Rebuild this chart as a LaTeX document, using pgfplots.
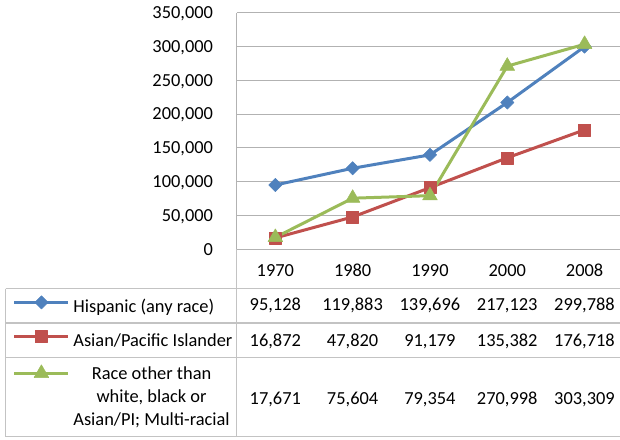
\documentclass[border=0pt]{standalone}
\usepackage{fontspec}
\setmainfont{Carlito}
\usepackage{pgfplots}
\pgfplotsset{compat=1.18}
\definecolor{cblue}{RGB}{79,129,189}
\definecolor{cred}{RGB}{192,80,77}
\definecolor{cgreen}{RGB}{155,187,89}
\definecolor{gridgray}{RGB}{178,178,178}
\definecolor{tablegray}{RGB}{195,195,195}
\newcommand{\cf}{\fontsize{18.4}{23}\selectfont}
\begin{document}
\begin{tikzpicture}[font=\cf]
\begin{axis}[
  scale only axis, width=383.3pt, height=236.6pt,
  xmin=-0.5, xmax=4.458, ymin=0, ymax=350000,
  axis lines=left, axis line style={-, draw=gridgray, line width=1pt},
  xtick={0,1,2,3,4}, xticklabels={1970,1980,1990,2000,2008},
  ytick={0,50000,100000,150000,200000,250000,300000,350000},
  major tick length=0pt,
  ymajorgrids, grid style={draw=gridgray, line width=1pt},
  scaled y ticks=false,
  yticklabel style={/pgf/number format/fixed, /pgf/number format/1000 sep={,}},
  /pgf/number format/assume math mode=true,
  tick label style={font=\cf},
  xticklabel style={anchor=base, inner sep=0pt, yshift=-26.7pt},
  yticklabel style={anchor=base east, inner sep=0pt, xshift=-23.5pt, yshift=-5.8pt},
  clip=false,
  legend cell align=left,
  legend style={draw=none, fill=none, font=\cf, at={(-0.5844,-0.1953)}, anchor=north west,
    inner sep=0pt, row sep=13.5pt, /tikz/column sep=3.5pt,
    nodes={inner sep=0pt, text height=14pt, text depth=5pt}},
  legend image code/.code={\draw[mark repeat=2,mark phase=2,#1] plot coordinates {(0pt,5.2pt) (27pt,5.2pt) (54pt,5.2pt)};},
  every axis plot/.append style={line width=3pt, line join=round},
]
\coordinate (O) at (rel axis cs:0,0);
\addplot[cblue, mark=square*, mark size=4.7pt, mark options={solid, line width=0.5pt, rotate=45}]
  coordinates {(0,95128) (1,119883) (2,139696) (3,217123) (4,299788)};
\addlegendentry{Hispanic (any race)}
\addplot[cred, mark=square*, mark size=6pt, mark options={solid, line width=0.5pt}]
  coordinates {(0,16872) (1,47820) (2,91179) (3,135382) (4,176718)};
\addlegendentry{Asian/Pacific Islander}
\addplot[cgreen, mark=triangle*, mark size=8.5pt, mark options={solid, line width=0.5pt}]
  coordinates {(0,17671) (1,75604) (2,79354) (3,270998) (4,303309)};
\addlegendentry{\raisebox{3pt}{\begin{tabular}[t]{@{}c@{}}Race other than\\white, black or\\Asian/PI; Multi-racial\end{tabular}}}
\end{axis}
\begin{scope}[shift={(O)}]
\begin{scope}[x=1pt, y=-1pt, shift={(-236.7,-249.3)}]
% data table grid
\draw[tablegray, line width=1.2pt]
  (5.7,288.5) -- (620,288.5)
  (5.7,323) -- (620,323)
  (5.7,357.5) -- (620,357.5)
  (5.7,436.5) -- (620,436.5)
  (5.7,288.5) -- (5.7,436.5)
  (236.7,249.3) -- (236.7,436.5);
% data table values
\foreach \x/\a/\b/\c in {275.3/95{,}128/16{,}872/17{,}671,
                         352.6/119{,}883/47{,}820/75{,}604,
                         429.9/139{,}696/91{,}179/79{,}354,
                         507.2/217{,}123/135{,}382/270{,}998,
                         584.5/299{,}788/176{,}718/303{,}309}{
  \node[anchor=base, inner sep=0pt] at (\x,310.5) {\a};
  \node[anchor=base, inner sep=0pt] at (\x,346) {\b};
  \node[anchor=base, inner sep=0pt] at (\x,404) {\c};
}
\pgfresetboundingbox
\path[use as bounding box] (0,0) rectangle (620,439);
\end{scope}
\end{scope}
\end{tikzpicture}
\end{document}
